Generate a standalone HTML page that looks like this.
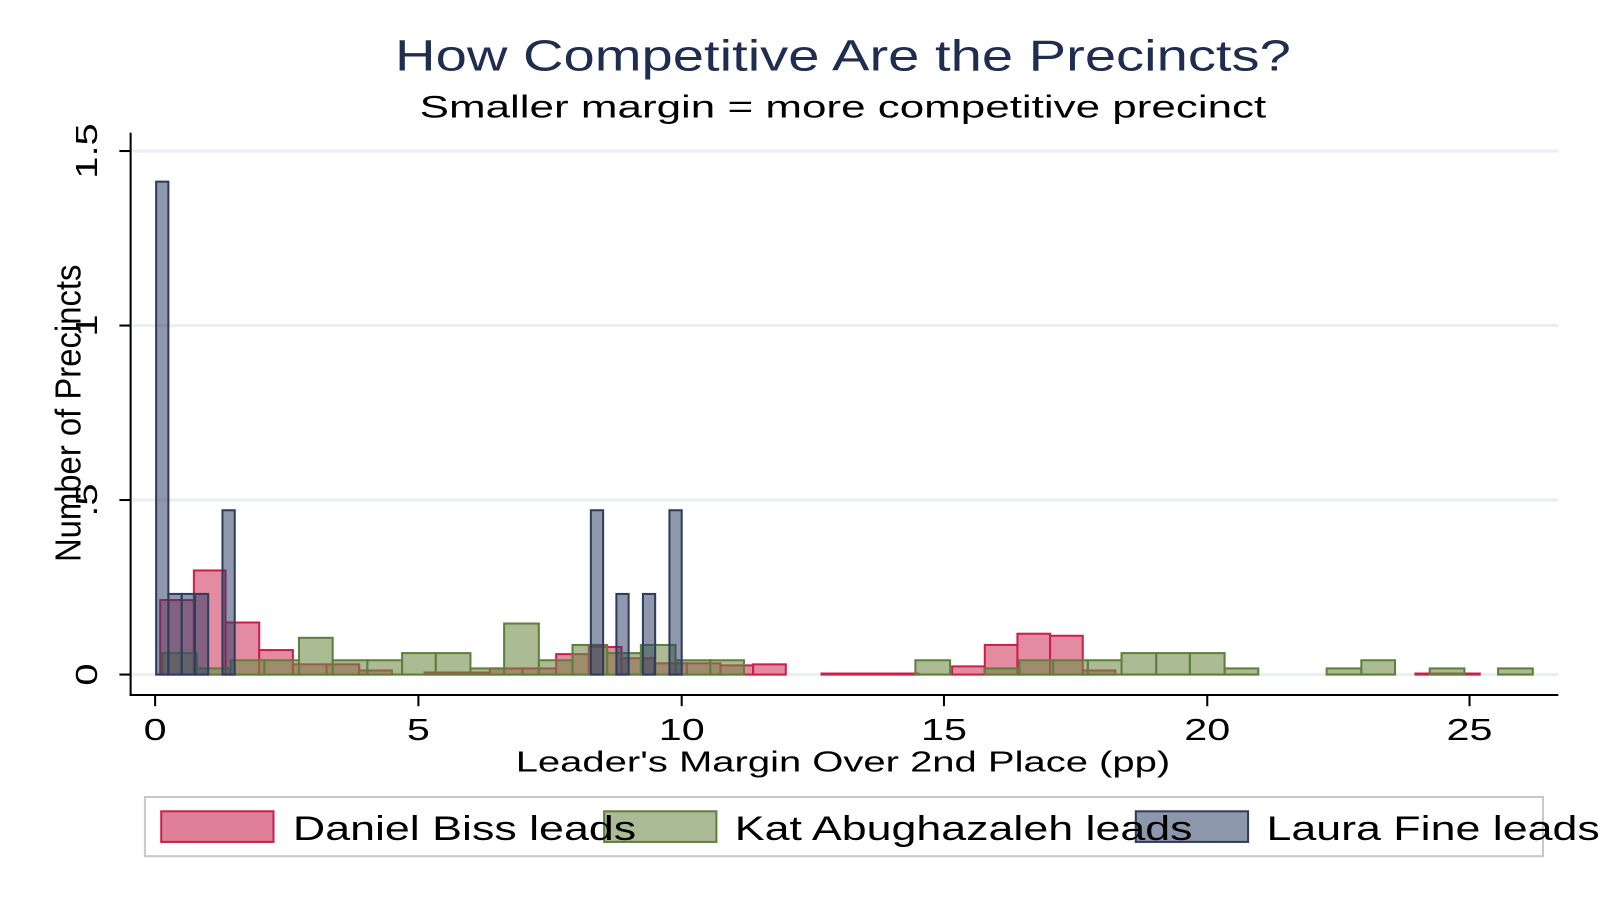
<!DOCTYPE html>
<html><head><meta charset="utf-8"><style>
html,body{margin:0;padding:0;background:#fff;}
svg{display:block;font-family:"Liberation Sans",Arial,sans-serif;}
.r{fill:#e07f97;stroke:#cc1f4c;stroke-width:2;fill-opacity:0.9}
.g{fill:rgba(110,140,70,0.58);stroke:#5f7f3c;stroke-width:2}
.b{fill:rgba(45,60,100,0.53);stroke:#2e3c60;stroke-width:2}
</style></head><body>
<svg width="1600" height="900" viewBox="0 0 1600 900">
<rect width="1600" height="900" fill="#fff"/>
<g transform="scale(1.0205)">
<text transform="translate(826,69) scale(1.28,1)" font-size="43" fill="#1f2d50" text-anchor="middle">How Competitive Are the Precincts?</text>
<text transform="translate(826,115) scale(1.39,1)" font-size="31" fill="#000" text-anchor="middle">Smaller margin = more competitive precinct</text>
<g stroke="#eaeff2" stroke-width="3">
<line x1="130" x2="1527" y1="148" y2="148"/><line x1="130" x2="1527" y1="319" y2="319"/>
<line x1="130" x2="1527" y1="490" y2="490"/><line x1="130" x2="1527" y1="661" y2="661"/>
</g>
<g class="r">
<rect x="157" y="588" width="33" height="73"/><rect x="190" y="559" width="31" height="102"/>
<rect x="221" y="610" width="33" height="51"/><rect x="254" y="637" width="33" height="24"/>
<rect x="287" y="651" width="33" height="10"/><rect x="320" y="651" width="32" height="10"/>
<rect x="352" y="657" width="32" height="4"/><rect x="416" y="659" width="32" height="2"/>
<rect x="448" y="659" width="32" height="2"/><rect x="480" y="655" width="32" height="6"/>
<rect x="512" y="655" width="33" height="6"/><rect x="545" y="641" width="32" height="20"/>
<rect x="577" y="634" width="32" height="27"/><rect x="609" y="645" width="32" height="16"/>
<rect x="641" y="650" width="32" height="11"/><rect x="673" y="650" width="33" height="11"/>
<rect x="706" y="652" width="32" height="9"/><rect x="738" y="651" width="32" height="10"/>
<rect x="805" y="660" width="95" height="1"/><rect x="933" y="653" width="32" height="8"/>
<rect x="965" y="632" width="32" height="29"/><rect x="997" y="621" width="32" height="40"/>
<rect x="1029" y="623" width="32" height="38"/><rect x="1061" y="657" width="32" height="4"/>
<rect x="1387" y="660" width="63" height="1"/>
</g>
<g class="g">
<rect x="159" y="640" width="34" height="21"/><rect x="193" y="655" width="33" height="6"/>
<rect x="226" y="647" width="33" height="14"/><rect x="259" y="647" width="34" height="14"/>
<rect x="293" y="625" width="33" height="36"/><rect x="326" y="647" width="34" height="14"/>
<rect x="360" y="647" width="34" height="14"/><rect x="394" y="640" width="33" height="21"/>
<rect x="427" y="640" width="34" height="21"/><rect x="461" y="655" width="33" height="6"/>
<rect x="494" y="611" width="34" height="50"/><rect x="528" y="647" width="33" height="14"/>
<rect x="561" y="632" width="34" height="29"/><rect x="595" y="640" width="33" height="21"/>
<rect x="628" y="632" width="34" height="29"/><rect x="662" y="647" width="34" height="14"/>
<rect x="696" y="647" width="33" height="14"/><rect x="897" y="647" width="34" height="14"/>
<rect x="965" y="655" width="34" height="6"/><rect x="999" y="647" width="33" height="14"/>
<rect x="1032" y="647" width="34" height="14"/><rect x="1066" y="647" width="33" height="14"/>
<rect x="1099" y="640" width="34" height="21"/><rect x="1133" y="640" width="33" height="21"/>
<rect x="1166" y="640" width="34" height="21"/><rect x="1200" y="655" width="33" height="6"/>
<rect x="1300" y="655" width="34" height="6"/><rect x="1334" y="647" width="33" height="14"/>
<rect x="1401" y="655" width="34" height="6"/><rect x="1468" y="655" width="34" height="6"/>
</g>
<g class="b">
<rect x="153" y="178" width="12" height="483"/><rect x="165" y="582" width="13" height="79"/>
<rect x="178" y="582" width="13" height="79"/><rect x="191" y="582" width="13" height="79"/>
<rect x="218" y="500" width="12" height="161"/><rect x="579" y="500" width="12" height="161"/>
<rect x="604" y="582" width="12" height="79"/><rect x="630" y="582" width="12" height="79"/>
<rect x="656" y="500" width="12" height="161"/>
</g>
<g stroke="#000" stroke-width="2">
<line x1="128" y1="130" x2="128" y2="682"/><line x1="127" y1="681" x2="1527" y2="681"/>
<line x1="117" x2="128" y1="148" y2="148"/><line x1="117" x2="128" y1="319" y2="319"/>
<line x1="117" x2="128" y1="490" y2="490"/><line x1="117" x2="128" y1="661" y2="661"/>
<line x1="152" x2="152" y1="681" y2="692"/><line x1="410" x2="410" y1="681" y2="692"/>
<line x1="668" x2="668" y1="681" y2="692"/><line x1="925" x2="925" y1="681" y2="692"/>
<line x1="1183" x2="1183" y1="681" y2="692"/><line x1="1440" x2="1440" y1="681" y2="692"/>
</g>
<g font-size="30" text-anchor="middle">
<text transform="translate(95,148) rotate(-90) scale(1.3,1)">1.5</text>
<text transform="translate(95,319) rotate(-90) scale(1.3,1)">1</text>
<text transform="translate(95,490) rotate(-90) scale(1.3,1)">.5</text>
<text transform="translate(95,661) rotate(-90) scale(1.3,1)">0</text>
<text transform="translate(152,725) scale(1.35,1)">0</text>
<text transform="translate(410,725) scale(1.35,1)">5</text>
<text transform="translate(668,725) scale(1.35,1)">10</text>
<text transform="translate(925,725) scale(1.35,1)">15</text>
<text transform="translate(1183,725) scale(1.35,1)">20</text>
<text transform="translate(1440,725) scale(1.35,1)">25</text>
</g>
<text transform="translate(79,405) rotate(-90) scale(0.92,1)" font-size="35" text-anchor="middle">Number of Precincts</text>
<text transform="translate(826,756) scale(1.4,1)" font-size="28" text-anchor="middle">Leader's Margin Over 2nd Place (pp)</text>
<rect x="142" y="781" width="1370" height="58" fill="#fff" stroke="#c8c8c8" stroke-width="2"/>
<rect x="158" y="795" width="110" height="30" fill="#e08098" stroke="#cc1f4c" stroke-width="2"/>
<rect x="592" y="795" width="110" height="30" fill="#aabb96" stroke="#5f7f3c" stroke-width="2"/>
<rect x="1113" y="795" width="110" height="30" fill="#8d97ab" stroke="#2e3c60" stroke-width="2"/>
<g font-size="34">
<text transform="translate(287,823) scale(1.29,1)">Daniel Biss leads</text>
<text transform="translate(720,823) scale(1.29,1)">Kat Abughazaleh leads</text>
<text transform="translate(1241,823) scale(1.29,1)">Laura Fine leads</text>
</g>
</g>
</svg>
</body></html>
